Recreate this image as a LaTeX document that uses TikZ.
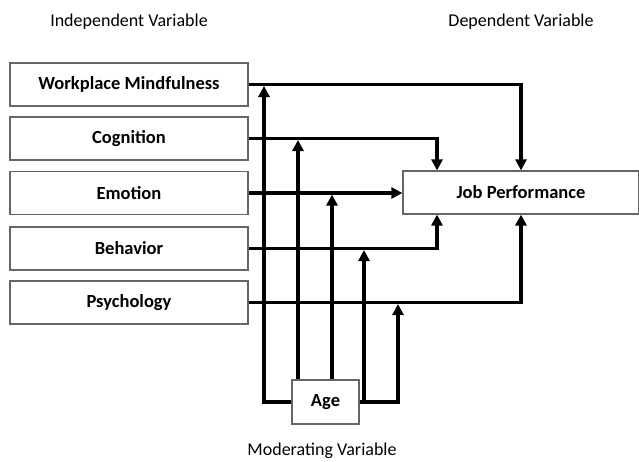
\documentclass[tikz,border=0pt]{standalone}
\usepackage{fontspec}
\setmainfont{Carlito}
\usetikzlibrary{positioning,arrows.meta}

\begin{document}
\begin{tikzpicture}
        [x=1pt, y=-1pt,
        font=\fontsize{18}{21}\selectfont,
        varbox/.style={draw=black!60, line width=1.2pt, fill=white,
        minimum height=43pt, inner sep=0pt, font=\fontsize{18.5}{21}\selectfont\bfseries},
        link/.style={draw=black, line width=3.2pt, line join=miter,
        -{Triangle[length=11pt,width=11pt]}}]
        \useasboundingbox (0,0) rectangle (639,461);
        % headings
        \node (indep) at (129,22) {Independent Variable};
        \node (dep) at (521,22) {Dependent Variable};
        \node (moder) at (322,451) {Moderating Variable};
        % independent variables
        \node[varbox, minimum width=238pt] (mind) at (129,84.5) {Workplace Mindfulness};
        \node[varbox, minimum width=238pt] (cog) at (129,138.5) {Cognition};
        \node[varbox, minimum width=238pt] (emo) at (129,193) {Emotion};
        \node[varbox, minimum width=238pt] (beh) at (129,248.5) {Behavior};
        \node[varbox, minimum width=238pt] (psy) at (129,302.5) {Psychology};
        % dependent and moderating variables
        \node[varbox, minimum width=236pt] (job) at (521,192.5) {Job Performance};
        \node[varbox, minimum width=67pt, minimum height=44pt] (age) at (325.5,402) {Age};
        % points where the moderator meets the paths
        \coordinate (m1) at (264,84.5);
        \coordinate (m2) at (298,138.5);
        \coordinate (m3) at (332,193);
        \coordinate (m4) at (364,248.5);
        \coordinate (m5) at (398,302.5);
        % direct paths
        \draw[link] (mind.east) -| (job.north);
        \draw[link] (cog.east) -| ([xshift=-84pt]job.north);
        \draw[link] (emo.east) -- (emo.east -| job.west);
        \draw[link] (beh.east) -| ([xshift=-84pt]job.south);
        \draw[link] (psy.east) -| (job.south);
        % moderating paths
        \draw[link, shorten >=1.5pt] (age.west) -| (m1);
        \draw[link, shorten >=1.5pt] (age.north -| m2) -- (m2);
        \draw[link, shorten >=1.5pt] (age.north -| m3) -- (m3);
        \draw[link, shorten >=1.5pt] (age.east) -| (m5);
        \draw[link, shorten >=1.5pt] (age.east -| m4) -- (m4);
\end{tikzpicture}
\end{document}
